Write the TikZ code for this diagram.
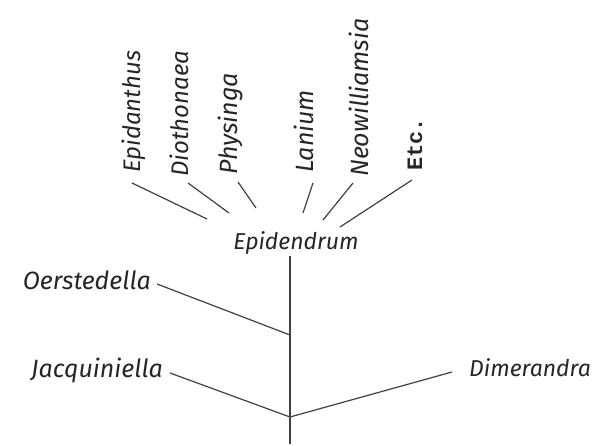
\documentclass[tikz,border=0pt]{standalone}
\usepackage{fontspec}
\setmainfont{Fira Sans}
\newfontfamily\tyfont{Liberation Mono}
\begin{document}
\begin{tikzpicture}[x=1pt,y=-1pt,
  ink/.style={draw=black!75, line width=1.2pt},
  lbl/.style={inner sep=0pt, text=black!85, font=\fontsize{25}{30}\selectfont\itshape},
  vlbl/.style={lbl, rotate=90, anchor=base west},
  mono/.style={inner sep=0pt, text=black!85, rotate=90, anchor=base west, font=\fontsize{22}{26}\selectfont\tyfont\bfseries}]
\useasboundingbox (0,0) rectangle (600,445);
% rotated labels
\node[vlbl, font=\fontsize{24}{28}\selectfont\itshape] (epi) at (140,173) {Epidanthus};
\node[vlbl, font=\fontsize{24}{28}\selectfont\itshape] (dio) at (188,177) {Diothonaea};
\node[vlbl] (phy) at (237,175) {Physinga};
\node[vlbl] (lan) at (313,173) {Lanium};
\node[vlbl] (neo) at (368,177) {Neowilliamsia};
\node[mono] (etc) at (422,171) {Etc.};
% central label
\node[lbl, anchor=base, inner sep=2pt, font=\fontsize{23}{28}\selectfont\itshape] (epd) at (296,249) {Epidendrum};
% side labels
\node[lbl, anchor=base east] (oer) at (151,289) {Oerstedella};
\node[lbl, anchor=base east] (jac) at (163,377) {Jacquiniella};
\node[lbl, anchor=base west, font=\fontsize{23}{28}\selectfont\itshape] (dim) at (469,376) {Dimerandra};
% coordinates
\coordinate (e1) at (207,219);
\coordinate (e2) at (229,213);
\coordinate (e3) at (256,208);
\coordinate (e4) at (303,213);
\coordinate (e5) at (323,220);
\coordinate (e6) at (340,227);
\coordinate (jo) at (290,335);
\coordinate (jn) at (290,417);
\coordinate (root) at (290,444);
% connectors
\draw[ink] ([xshift=-8pt,yshift=-10pt]epi.base west) -- (e1);
\draw[ink] ([yshift=-6pt]dio.base west) -- (e2);
\draw[ink] ([xshift=1pt,yshift=-7pt]phy.base west) -- (e3);
\draw[ink] ([yshift=-10pt]lan.base west) -- (e4);
\draw[ink] ([xshift=-15pt,yshift=-6pt]neo.base west) -- (e5);
\draw[ink] ([xshift=-10pt,yshift=-9pt]etc.base west) -- (e6);
\draw[ink] (epd.south -| jn) -- (root);
\draw[ink] ([xshift=6pt,yshift=5pt]oer.base east) -- (jo);
\draw[ink] ([xshift=7pt,yshift=4pt]jac.base east) -- (jn);
\draw[ink] (jn) -- ([xshift=-17pt,yshift=4pt]dim.base west);
\end{tikzpicture}
\end{document}
